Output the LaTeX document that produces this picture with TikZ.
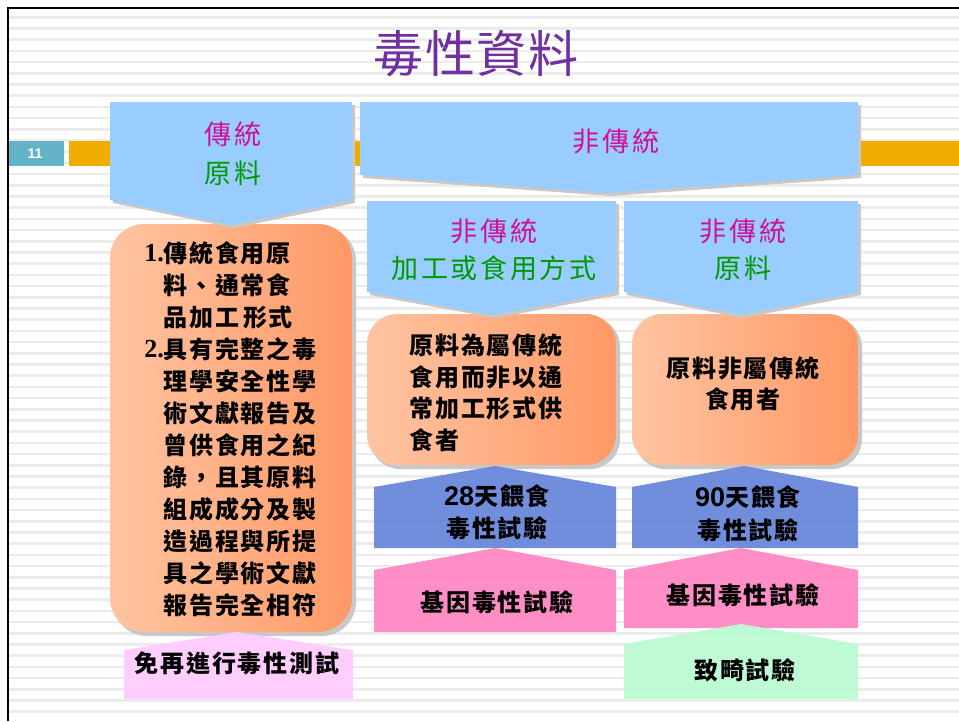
\documentclass[tikz,border=0pt]{standalone}
\usepackage{fontspec}
\setmainfont{Liberation Serif}
\setsansfont{Liberation Sans}
\newfontfamily\cjkT[LetterSpace=3]{Noto Sans CJK TC}
\newfontfamily\cjkH[LetterSpace=10]{Noto Sans CJK TC}
\newfontfamily\cjkB[LetterSpace=8]{Noto Sans CJK TC}
\newcommand\mydigs{\sffamily\bfseries\fontsize{27}{30}\selectfont}
\definecolor{chevblue}{HTML}{99CCFF}
\definecolor{shadowgray}{HTML}{C8C8C8}
\definecolor{orL}{HTML}{FFC4A2}
\definecolor{orR}{HTML}{FF9966}
\definecolor{bluepent}{HTML}{6A88DC}
\definecolor{pinkpent}{HTML}{FF88C4}
\definecolor{lpinkpent}{HTML}{FFCCFF}
\definecolor{greenpent}{HTML}{BBFAD2}
\definecolor{tealbox}{HTML}{62B2C8}
\definecolor{orbar}{HTML}{F0AC00}
\definecolor{magtext}{HTML}{D0109A}
\definecolor{grntext}{HTML}{009900}
\definecolor{purtext}{HTML}{7030A0}
\definecolor{stripe}{HTML}{ECECEC}
\begin{document}
\begin{tikzpicture}[x=1pt,y=-1pt,
  chev/.style={fill=chevblue},
  shad/.style={fill=shadowgray},
  obox/.style={left color=orL,right color=orR,rounded corners=34pt},
  head/.style={inner sep=0pt,font=\cjkH\fontsize{27}{30}\selectfont},
  body/.style={inner sep=0pt,font=\cjkB\bfseries\fontsize{24}{28}\selectfont},
  numb/.style={inner sep=0pt,anchor=east,font=\rmfamily\bfseries\fontsize{26}{28}\selectfont},
  pent/.style={opacity=0.95}]
\useasboundingbox (0,0) rectangle (959,721);
\fill[white] (0,0) rectangle (959,721);
% background stripes
\foreach \i in {0,...,62}{
  \fill[stripe] (9,{16+11.2*\i}) rectangle (959,{18.5+11.2*\i});
}
% frame
\draw[line width=2.5pt] (8,721) -- (8,8) -- (959,8);
% slide number and bar
\fill[tealbox] (9,141) rectangle (64,166);
\node[inner sep=0pt,text=white,font=\sffamily\bfseries\fontsize{14}{16}\selectfont] (num) at (35,153.5) {11};
\fill[orbar] (69,141) rectangle (959,166);
% title
\node[inner sep=0pt,text=purtext,font=\cjkT\fontsize{50}{56}\selectfont] (title) at (476,54) {毒性資料};

% orange boxes
\fill[shad,rounded corners=34pt] (113,227) rectangle (356,636);
\shade[obox] (110,224) rectangle (352,632);
\fill[shad,rounded corners=30pt] (370,317) rectangle (620,469);
\shade[obox,rounded corners=30pt] (367,314) rectangle (616,465);
\fill[shad,rounded corners=30pt] (635,317) rectangle (862,469);
\shade[obox,rounded corners=30pt] (632,314) rectangle (858,465);

% chevrons top row
\fill[shad] (113,105) -- (355,105) -- (355,203) -- (234,228) -- (113,203) -- cycle;
\fill[chev] (110,102) -- (352,102) -- (352,200) -- (231,225) -- (110,200) -- cycle;
\fill[shad] (363,105) -- (861,105) -- (861,178) -- (611,196) -- (363,178) -- cycle;
\fill[chev] (360,102) -- (858,102) -- (858,175) -- (608,193) -- (360,175) -- cycle;
% chevrons second row
\fill[shad] (370,204) -- (619,204) -- (619,295) -- (495,318) -- (370,295) -- cycle;
\fill[chev] (367,201) -- (616,201) -- (616,292) -- (492,315) -- (367,292) -- cycle;
\fill[shad] (627,204) -- (861,204) -- (861,295) -- (743,318) -- (627,295) -- cycle;
\fill[chev] (624,201) -- (858,201) -- (858,292) -- (740,315) -- (624,292) -- cycle;

% pentagons
\fill[pent,bluepent] (374,548) -- (374,487) -- (495,466) -- (616,487) -- (616,548) -- cycle;
\fill[pent,bluepent] (632,548) -- (632,487) -- (744,466) -- (858,487) -- (858,548) -- cycle;
\fill[pent,pinkpent] (374,632) -- (374,570) -- (495,548) -- (616,570) -- (616,632) -- cycle;
\fill[pent,pinkpent] (624,628) -- (624,570) -- (741,548) -- (858,570) -- (858,628) -- cycle;
\fill[pent,lpinkpent] (124,699) -- (124,650) -- (237,632) -- (353,650) -- (353,699) -- cycle;
\fill[pent,greenpent] (624,699) -- (624,644) -- (741,624) -- (858,644) -- (858,699) -- cycle;

% chevron texts
\node[head,text=magtext] (t1a) at (233,134) {傳統};
\node[head,text=grntext] (t1b) at (233,173) {原料};
\node[head,text=magtext] (t2) at (616,141) {非傳統};
\node[head,text=magtext] (t3a) at (494,231) {非傳統};
\node[head,text=grntext] (t3b) at (494,268) {加工或食用方式};
\node[head,text=magtext] (t4a) at (743,231) {非傳統};
\node[head,text=grntext] (t4b) at (743,268) {原料};

% left box text
\node[numb] (n1) at (164,253) {1.};
\node[body,anchor=west] (l1) at (163,253) {傳統食用原};
\node[body,anchor=west] (l2) at (163,285) {料、通常食};
\node[body,anchor=west] (l3) at (163,317) {品加工\,形式};
\node[numb] (n2) at (164,349) {2.};
\node[body,anchor=west] (l4) at (163,349) {具有完整之毒};
\node[body,anchor=west] (l5) at (163,381) {理學安全性學};
\node[body,anchor=west] (l6) at (163,413) {術文獻報告及};
\node[body,anchor=west] (l7) at (163,445) {曾供食用之紀};
\node[body,anchor=west] (l8) at (163,477) {錄，且其原料};
\node[body,anchor=west] (l9) at (163,509) {組成成分及製};
\node[body,anchor=west] (l10) at (163,541) {造過程與所提};
\node[body,anchor=west] (l11) at (163,573) {具之學術文獻};
\node[body,anchor=west] (l12) at (163,605) {報告完全相符};

% middle box text
\node[body,anchor=west] (m1) at (409,345) {原料為屬傳統};
\node[body,anchor=west] (m2) at (409,377) {食用而非以通};
\node[body,anchor=west] (m3) at (409,408) {常加工形式供};
\node[body,anchor=west] (m4) at (409,440) {食者};

% right box text
\node[body] (r1) at (743,368) {原料非屬傳統};
\node[body] (r2) at (743,399) {食用者};

% blue pentagon text
\node[body] (b1a) at (497,496) {{\mydigs 28}天餵食};
\node[body] (b1b) at (497,528) {毒性試驗};
\node[body] (b2a) at (748,497) {{\mydigs 90}天餵食};
\node[body] (b2b) at (748,530) {毒性試驗};

% pink pentagon text
\node[body] (p1) at (497,602) {基因毒性試驗};
\node[body] (p2) at (743,595) {基因毒性試驗};

% bottom texts
\node[body] (q1) at (237,663) {免再進行毒性測試};
\node[body] (g1) at (745,670) {致畸試驗};
\end{tikzpicture}
\end{document}
